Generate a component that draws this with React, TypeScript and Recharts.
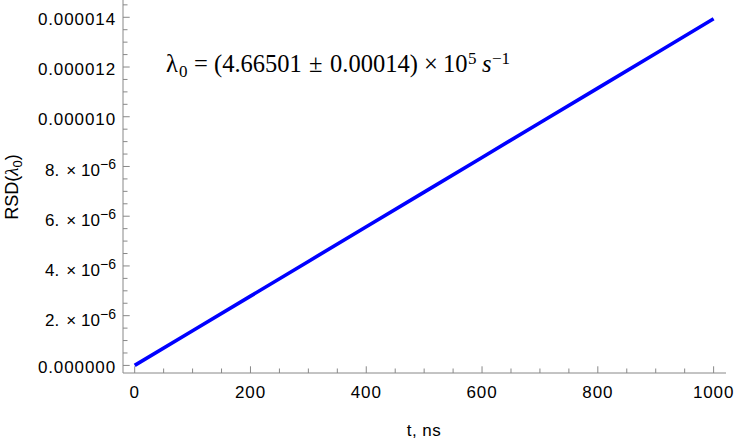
import React from 'react';
import { LineChart, Line, XAxis, YAxis } from 'recharts';

const tValues = [0, 100, 200, 300, 400, 500, 600, 700, 800, 900, 1000];
const rsdValues = [0, 1.394e-6, 2.788e-6, 4.182e-6, 5.576e-6, 6.97e-6, 8.364e-6, 9.758e-6, 11.152e-6, 12.546e-6, 13.94e-6];

const xMajorTicks = [0, 200, 400, 600, 800, 1000];
const xMinorTicks = [50, 100, 150, 250, 300, 350, 450, 500, 550, 650, 700, 750, 850, 900, 950];

const yMajorTicks = [0, 0.000002, 0.000004, 0.000006, 0.000008, 0.00001, 0.000012, 0.000014];
const yMajorMantissa = ['0.000000', '2.', '4.', '6.', '8.', '0.000010', '0.000012', '0.000014'];
const yMajorExponent = ['', '\u22126', '\u22126', '\u22126', '\u22126', '', '', ''];
const yMinorTicks = [
  0.0000005, 0.000001, 0.0000015, 0.0000025, 0.000003, 0.0000035, 0.0000045, 0.000005, 0.0000055,
  0.0000065, 0.000007, 0.0000075, 0.0000085, 0.000009, 0.0000095, 0.0000105, 0.000011, 0.0000115,
  0.0000125, 0.000013, 0.0000135, 0.0000145,
];

const data = tValues.map((t, i) => ({ t, rsd: rsdValues[i] }));

const AXIS = '#888888';
const SANS = '"Liberation Sans", Arial, Helvetica, sans-serif';
const SERIF = '"Liberation Serif", "Times New Roman", Times, serif';

const YTick = (props: any) => {
  const { x, y, payload } = props;
  const v = payload.value;
  const idx = yMajorTicks.findIndex((m) => Math.abs(m - v) < 1e-12);
  const major = idx >= 0;
  return (
    <g>
      <line x1={x} x2={x + (major ? 6.7 : 4.5)} y1={y} y2={y} stroke={AXIS} strokeWidth={1} />
      {major && (
        <text
          x={x - 7}
          y={y + (yMajorExponent[idx] ? 10 : 8)}
          textAnchor="end"
          fontFamily={SANS}
          fontSize={17}
          letterSpacing={yMajorExponent[idx] ? 0 : 0.9}
          fill="#000"
        >
          {yMajorExponent[idx] ? (
            <>
              <tspan>{yMajorMantissa[idx]}</tspan>
              <tspan fontSize={17} dx={7}>×</tspan>
              <tspan dx={5}>10</tspan>
              <tspan fontSize={14} dy={-7}>{yMajorExponent[idx]}</tspan>
            </>
          ) : (
            yMajorMantissa[idx]
          )}
        </text>
      )}
    </g>
  );
};

const XTick = (props: any) => {
  const { x, y, payload } = props;
  const v = payload.value;
  const major = xMajorTicks.includes(v);
  return (
    <g>
      <line x1={x} x2={x} y1={y} y2={y - (major ? 6.7 : 4.5)} stroke={AXIS} strokeWidth={1} />
      {major && (
        <text x={x} y={y + 24.5} textAnchor="middle" fontFamily={SANS} fontSize={17} letterSpacing={0.9} fill="#000">
          {String(v)}
        </text>
      )}
    </g>
  );
};

export default function App() {
  return (
    <div style={{ position: 'absolute', left: 0, top: 0, width: 735, height: 440, background: '#fff' }}>
      <LineChart width={735} height={440} data={data} margin={{ top: 0, right: 9, bottom: 0, left: 0 }}>
        <XAxis
          dataKey="t"
          type="number"
          domain={[-20.2, 1021.4]}
          ticks={[...xMajorTicks, ...xMinorTicks].sort((a, b) => a - b)}
          interval={0}
          tick={<XTick />}
          tickLine={false}
          tickSize={0}
          tickMargin={0}
          height={67}
          axisLine={{ stroke: AXIS, strokeWidth: 1 }}
          allowDataOverflow
        />
        <YAxis
          type="number"
          domain={[-0.000000305, 0.000014695]}
          ticks={[...yMajorTicks, ...yMinorTicks].sort((a, b) => a - b)}
          interval={0}
          tick={<YTick />}
          tickLine={false}
          tickSize={0}
          tickMargin={0}
          width={123}
          axisLine={{ stroke: AXIS, strokeWidth: 1 }}
          allowDataOverflow
        />
        <Line
          dataKey="rsd"
          type="linear"
          stroke="#0000ff"
          strokeWidth={3.6}
          dot={false}
          isAnimationActive={false}
        />
      </LineChart>
      <svg width={735} height={440} style={{ position: 'absolute', left: 0, top: 0, pointerEvents: 'none' }}>
        <text
          transform="translate(18, 187) rotate(-90)"
          textAnchor="middle"
          fontFamily={SANS}
          fontSize={18}
          fill="#000"
        >
          RSD(<tspan fontFamily={SERIF} fontStyle="italic" fontSize={19}>λ</tspan>
          <tspan fontSize={13} dy={4}>0</tspan>
          <tspan dy={-4}>)</tspan>
        </text>
        <text x={424} y={436} textAnchor="middle" fontFamily={SANS} fontSize={17} letterSpacing={0.5} fill="#000">
          t, ns
        </text>
        <text fontFamily={SERIF} fontSize={24.5} fill="#000">
          <tspan x={166} y={72}>λ</tspan>
          <tspan x={179} y={77} fontSize={17}>0</tspan>
          <tspan x={194} y={72}>=</tspan>
          <tspan x={214} y={72}>(4.66501</tspan>
          <tspan x={309} y={72}>±</tspan>
          <tspan x={330} y={72}>0.00014)</tspan>
          <tspan x={424} y={72}>×</tspan>
          <tspan x={443} y={72}>10</tspan>
          <tspan x={468} y={63.5} fontSize={17}>5</tspan>
          <tspan x={482} y={72} fontStyle="italic">s</tspan>
          <tspan x={492} y={63.5} fontSize={17}>−1</tspan>
        </text>
      </svg>
    </div>
  );
}
